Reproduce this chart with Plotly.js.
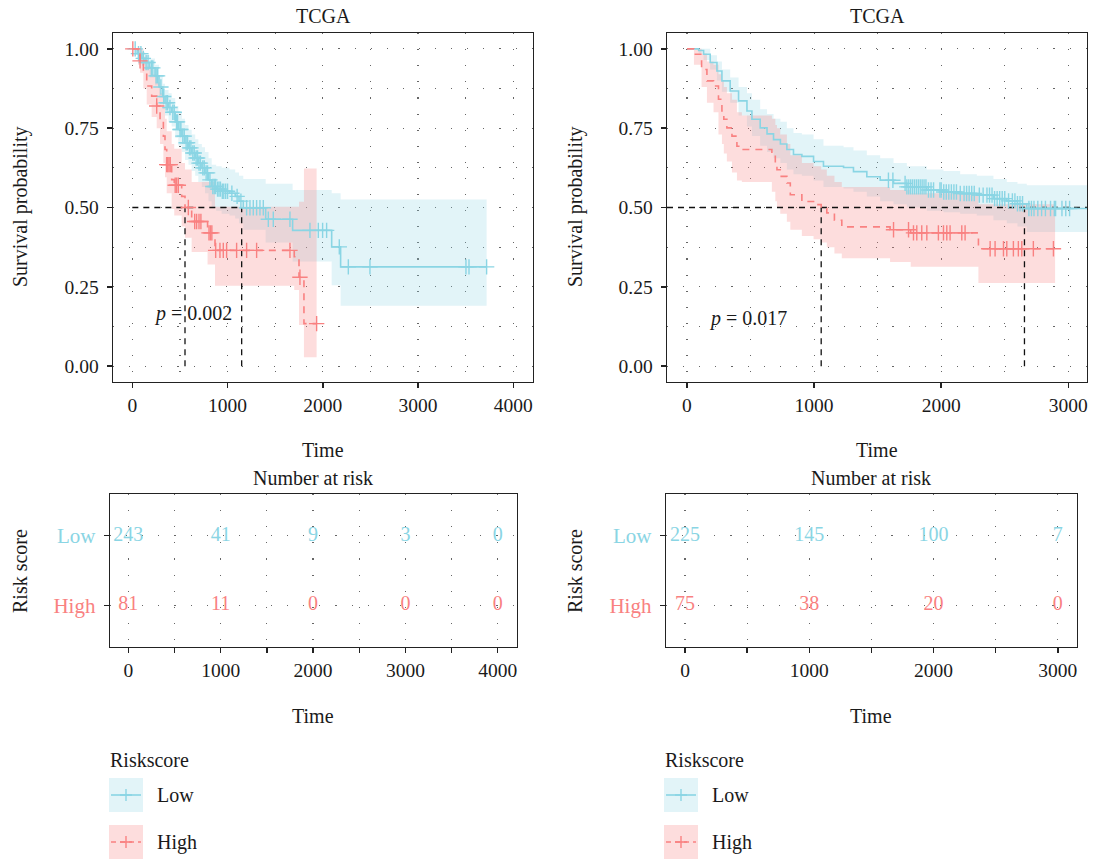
<!DOCTYPE html>
<html>
<head>
<meta charset="utf-8">
<script src="https://cdn.plot.ly/plotly-3.0.1.min.js"></script>
<style>html,body{margin:0;padding:0;background:#fff;}#chart{width:1094px;height:859px;}</style>
</head>
<body>
<div id="chart"></div>
<script>
// ---------------- DATA ----------------
// Left panel (TCGA) - Kaplan-Meier steps
const leftLowTime  = [0,50,100,133,180,238,280,320,343,380,413,450,483,520,553,590,623,660,693,730,763,800,833,880,938,1020,1080,1120,1165,1400,1683,2093,2187,3720];
const leftLowSurv  = [1,0.985,0.97,0.957,0.94,0.915,0.88,0.85,0.83,0.815,0.80,0.77,0.746,0.725,0.704,0.688,0.672,0.656,0.64,0.625,0.609,0.587,0.566,0.558,0.551,0.545,0.535,0.52,0.499,0.463,0.428,0.376,0.313,0.313];
const leftLowLower = [1,0.97,0.95,0.935,0.91,0.885,0.845,0.81,0.79,0.77,0.755,0.72,0.695,0.675,0.65,0.635,0.615,0.60,0.58,0.565,0.545,0.52,0.50,0.49,0.48,0.475,0.465,0.45,0.43,0.39,0.33,0.255,0.19,0.19];
const leftLowUpper = [1,1,0.99,0.98,0.97,0.95,0.915,0.89,0.87,0.86,0.845,0.82,0.80,0.78,0.76,0.745,0.73,0.715,0.70,0.69,0.675,0.655,0.635,0.63,0.625,0.62,0.61,0.60,0.59,0.575,0.555,0.545,0.525,0.525];
const leftLowCensor = [30,65,90,115,145,165,200,215,250,265,300,330,355,370,395,425,440,465,475,500,510,530,545,565,580,600,615,635,650,670,685,700,715,740,755,775,790,815,845,860,875,895,910,925,945,960,980,1000,1045,1100,1140,1200,1235,1270,1305,1340,1375,1428,1480,1655,1865,1953,1998,2040,2173,2268,2495,3503,3535,3720];

const leftHighTime  = [0,60,81,116,151,203,256,291,326,343,361,413,440,518,553,623,790,868,1700,1750,1802,1935];
const leftHighSurv  = [1,0.98,0.962,0.925,0.883,0.851,0.82,0.777,0.725,0.683,0.635,0.588,0.57,0.535,0.50,0.456,0.42,0.365,0.345,0.28,0.134,0.134];
const leftHighLower = [1,0.95,0.925,0.875,0.825,0.785,0.75,0.70,0.64,0.595,0.545,0.495,0.475,0.44,0.405,0.36,0.32,0.253,0.24,0.13,0.028,0.028];
const leftHighUpper = [1,1,1,0.975,0.945,0.92,0.895,0.86,0.815,0.78,0.74,0.70,0.685,0.64,0.62,0.58,0.58,0.502,0.502,0.518,0.623,0.623];
const leftHighCensor = [5,81,256,361,372,385,398,450,465,483,588,655,675,700,720,805,820,835,875,920,955,990,1095,1200,1305,1655,1760,1935];

const leftMedians = [553, 1148];
const leftPText = "<i>p</i> = 0.002";

// Right panel (TCGA)
const rightLowTime  = [0,92,131,183,236,275,340,406,472,511,576,630,681,735,786,838,904,996,1074,1232,1310,1415,1520,1625,1730,1887,2018,2149,2280,2411,2516,2600,2673,3147];
const rightLowSurv  = [1,0.995,0.983,0.957,0.93,0.899,0.867,0.836,0.804,0.778,0.751,0.732,0.714,0.70,0.683,0.667,0.661,0.645,0.63,0.626,0.613,0.597,0.586,0.576,0.565,0.555,0.549,0.544,0.539,0.528,0.521,0.512,0.497,0.497];
const rightLowLower = [1,0.985,0.965,0.935,0.90,0.865,0.83,0.79,0.755,0.725,0.695,0.675,0.655,0.64,0.62,0.605,0.60,0.585,0.565,0.56,0.55,0.535,0.52,0.51,0.50,0.49,0.485,0.48,0.475,0.46,0.45,0.44,0.423,0.423];
const rightLowUpper = [1,1,1,0.98,0.96,0.935,0.91,0.88,0.86,0.84,0.81,0.795,0.78,0.77,0.75,0.735,0.73,0.715,0.695,0.69,0.68,0.665,0.655,0.64,0.63,0.62,0.615,0.605,0.60,0.59,0.58,0.575,0.57,0.57];
const rightLowCensor = [1585,1620,1716,1730,1745,1760,1775,1790,1805,1820,1835,1850,1865,1880,1900,1920,1940,1990,2000,2020,2040,2060,2080,2100,2120,2150,2180,2200,2220,2240,2260,2300,2330,2360,2380,2400,2420,2440,2460,2480,2500,2530,2560,2580,2600,2620,2640,2690,2710,2730,2760,2790,2820,2860,2890,2900,2950,2980,3010];

const rightHighTime  = [0,55,115,157,209,248,275,290,314,354,393,432,668,695,708,734,786,813,904,996,1056,1100,1160,1218,1598,1760,2293,2896];
const rightHighSurv  = [1,0.983,0.935,0.899,0.883,0.841,0.804,0.778,0.751,0.725,0.693,0.683,0.667,0.64,0.619,0.598,0.577,0.54,0.519,0.509,0.497,0.483,0.46,0.439,0.43,0.42,0.37,0.37];
const rightHighLower = [1,0.95,0.88,0.83,0.80,0.73,0.70,0.67,0.645,0.61,0.585,0.58,0.55,0.52,0.50,0.48,0.455,0.43,0.41,0.40,0.39,0.375,0.355,0.34,0.328,0.313,0.262,0.262];
const rightHighUpper = [1,1,0.985,0.96,0.95,0.92,0.90,0.88,0.86,0.84,0.80,0.79,0.78,0.76,0.75,0.73,0.70,0.665,0.64,0.63,0.62,0.60,0.58,0.565,0.555,0.545,0.51,0.51];
const rightHighCensor = [1625,1743,1782,1808,1847,1887,1978,2018,2044,2070,2162,2188,2385,2424,2490,2516,2568,2607,2634,2725,2883];

const rightMedians = [1056, 2655];
const rightPText = "<i>p</i> = 0.017";

// Number at risk tables
const leftRiskTimes = [0,1000,2000,3000,4000];
const leftRiskLow   = [243,41,9,3,0];
const leftRiskHigh  = [81,11,0,0,0];
const rightRiskTimes = [0,1000,2000,3000];
const rightRiskLow   = [225,145,100,7];
const rightRiskHigh  = [75,38,20,0];

const groupNames = ["Low","High"];
const plotTitle = "TCGA";

// ---------------- STYLE ----------------
const FONT = "Liberation Serif";
const LOW_COL = "#8AD5E4";
const HIGH_COL = "#F98181";
const LOW_FILL = "rgba(138,213,228,0.25)";
const HIGH_FILL = "rgba(249,129,129,0.27)";
const TXT = "#1a1a1a";
const W = 1094, H = 859;
const px = v => v / W;
const py = v => 1 - v / H;

function stepAt(times, surv, t) {
  let v = surv[0];
  for (let i = 0; i < times.length; i++) { if (times[i] <= t) v = surv[i]; else break; }
  return v;
}

function kmBand(xa, ya, time, lower, upper, color, fill) {
  return [
    {x: time, y: lower, xaxis: xa, yaxis: ya, type: "scatter", mode: "lines",
     line: {width: 0, shape: "hv", color: color}, hoverinfo: "skip", showlegend: false},
    {x: time, y: upper, xaxis: xa, yaxis: ya, type: "scatter", mode: "lines", fill: "tonexty",
     fillcolor: fill, line: {width: 0, shape: "hv", color: color}, hoverinfo: "skip", showlegend: false}
  ];
}
function kmLine(xa, ya, time, surv, censor, color, dash) {
  return [
    {x: time, y: surv, xaxis: xa, yaxis: ya, type: "scatter", mode: "lines",
     line: {width: 1.6, shape: "hv", color: color, dash: dash}, showlegend: false},
    {x: censor, y: censor.map(t => stepAt(time, surv, t)), xaxis: xa, yaxis: ya, type: "scatter", mode: "markers",
     marker: {symbol: "cross-thin", size: 11, line: {width: 1.4, color: color}, color: color}, showlegend: false}
  ];
}
function medianTraces(xa, ya, medians, hStart, hEnd) {
  const tr = [{x: [hStart, hEnd], y: [0.5, 0.5], xaxis: xa, yaxis: ya, type: "scatter", mode: "lines",
    line: {color: "#111", width: 1.3, dash: "6px,5px"}, hoverinfo: "skip", showlegend: false}];
  medians.forEach(m => tr.push({x: [m, m], y: [0, 0.5], xaxis: xa, yaxis: ya, type: "scatter", mode: "lines",
    line: {color: "#111", width: 1.3, dash: "6px,5px"}, hoverinfo: "skip", showlegend: false}));
  return tr;
}
function riskTraces(xa, ya, times, low, high) {
  return [
    {x: times, y: times.map(() => 2), text: low.map(String), mode: "text", type: "scatter", xaxis: xa, yaxis: ya,
     textfont: {family: FONT, size: 20, color: LOW_COL}, hoverinfo: "skip", showlegend: false},
    {x: times, y: times.map(() => 1), text: high.map(String), mode: "text", type: "scatter", xaxis: xa, yaxis: ya,
     textfont: {family: FONT, size: 20, color: HIGH_COL}, hoverinfo: "skip", showlegend: false}
  ];
}

let data = [];
data = data.concat(kmBand("x", "y", leftLowTime, leftLowLower, leftLowUpper, LOW_COL, LOW_FILL));
data = data.concat(kmBand("x", "y", leftHighTime, leftHighLower, leftHighUpper, HIGH_COL, HIGH_FILL));
data = data.concat(medianTraces("x", "y", leftMedians, 0, Math.max(...leftMedians)));
data = data.concat(kmLine("x", "y", leftLowTime, leftLowSurv, leftLowCensor, LOW_COL, "solid"));
data = data.concat(kmLine("x", "y", leftHighTime, leftHighSurv, leftHighCensor, HIGH_COL, "7px,6px"));

data = data.concat(kmBand("x2", "y2", rightLowTime, rightLowLower, rightLowUpper, LOW_COL, LOW_FILL));
data = data.concat(kmBand("x2", "y2", rightHighTime, rightHighLower, rightHighUpper, HIGH_COL, HIGH_FILL));
data = data.concat(medianTraces("x2", "y2", rightMedians, -157, 3147));
data = data.concat(kmLine("x2", "y2", rightLowTime, rightLowSurv, rightLowCensor, LOW_COL, "solid"));
data = data.concat(kmLine("x2", "y2", rightHighTime, rightHighSurv, rightHighCensor, HIGH_COL, "7px,6px"));

data = data.concat(riskTraces("x3", "y3", leftRiskTimes, leftRiskLow, leftRiskHigh));
data = data.concat(riskTraces("x4", "y4", rightRiskTimes, rightRiskLow, rightRiskHigh));

const gridStyle = {showgrid: true, gridcolor: "rgba(0,0,0,0.6)", gridwidth: 1.1, griddash: "1.1px,15px"};
const axisBase = Object.assign({
  showline: true, mirror: true, linecolor: "#222", linewidth: 1.4,
  ticks: "outside", ticklen: 5, tickwidth: 1.4, tickcolor: "#222",
  zeroline: false, tickfont: {family: FONT, size: 19.5, color: TXT}, fixedrange: true
}, gridStyle);

function xTop(domain, range, anchor) {
  return Object.assign({}, axisBase, {domain: domain, range: range, anchor: anchor, tick0: 0, dtick: 1000,
    minor: Object.assign({dtick: 500, ticks: ""}, gridStyle)});
}
function yTop(domain, anchor) {
  return Object.assign({}, axisBase, {domain: domain, range: [-0.05, 1.05], anchor: anchor, tick0: 0, dtick: 0.25,
    tickformat: ".2f", minor: Object.assign({dtick: 0.125, ticks: ""}, gridStyle), ticklabelstandoff: 4});
}
function xTab(domain, range, anchor) {
  return Object.assign({}, axisBase, {domain: domain, range: range, anchor: anchor, tick0: 0, dtick: 1000,
    minor: Object.assign({dtick: 500, ticks: "outside", ticklen: 5, tickwidth: 1.4, tickcolor: "#222"}, gridStyle)});
}
function yTab(domain, anchor) {
  return Object.assign({}, axisBase, {domain: domain, range: [0.4, 2.6], anchor: anchor, tickvals: [1, 2],
    tickfont: {family: FONT, size: 21, color: TXT},
    ticktext: ['<span style="color:' + HIGH_COL + '">' + groupNames[1] + '</span>',
               '<span style="color:' + LOW_COL + '">' + groupNames[0] + '</span>'], ticklabelstandoff: 4});
}

const topY = [py(382), py(33)];
const tabY = [py(647), py(494)];

const ann = [];
function txt(x, y, text, opts) {
  ann.push(Object.assign({xref: "paper", yref: "paper", x: px(x), y: py(y), text: text, showarrow: false,
    xanchor: "center", yanchor: "middle", font: {family: FONT, size: 20, color: TXT}}, opts || {}));
}
// titles
txt(323, 16, plotTitle); txt(877, 16, plotTitle);
txt(20, 207, "Survival probability", {textangle: -90}); txt(575, 207, "Survival probability", {textangle: -90});
txt(323, 450, "Time"); txt(877, 450, "Time");
txt(313, 478, "Number at risk"); txt(871, 478, "Number at risk");
txt(313, 716, "Time"); txt(871, 716, "Time");
txt(20, 571, "Risk score", {textangle: -90}); txt(575, 571, "Risk score", {textangle: -90});
// p values (data coords)
ann.push({xref: "x", yref: "y", x: 207, y: 0.167, text: leftPText, showarrow: false, xanchor: "left", yanchor: "middle",
  font: {family: FONT, size: 20, color: TXT}});
ann.push({xref: "x2", yref: "y2", x: 160, y: 0.15, text: rightPText, showarrow: false, xanchor: "left", yanchor: "middle",
  font: {family: FONT, size: 20, color: TXT}});

// legends (drawn as shapes + text)
const shapes = [];
function legend(x0) {
  txt(x0, 760, "Riskscore", {xanchor: "left", x: px(x0 - 1)});
  const keys = [{y: 778, col: LOW_COL, fill: LOW_FILL, dash: "solid", label: groupNames[0]},
                {y: 825, col: HIGH_COL, fill: HIGH_FILL, dash: "5px,4px", label: groupNames[1]}];
  keys.forEach(k => {
    shapes.push({type: "rect", xref: "paper", yref: "paper", x0: px(x0), x1: px(x0 + 34), y0: py(k.y + 34), y1: py(k.y),
      fillcolor: k.fill, line: {width: 0}, layer: "below"});
    shapes.push({type: "line", xref: "paper", yref: "paper", x0: px(x0 + 2), x1: px(x0 + 32), y0: py(k.y + 17), y1: py(k.y + 17),
      line: {color: k.col, width: 1.6, dash: k.dash}});
    shapes.push({type: "line", xref: "paper", yref: "paper", x0: px(x0 + 17), x1: px(x0 + 17), y0: py(k.y + 11), y1: py(k.y + 23),
      line: {color: k.col, width: 1.4}});
    shapes.push({type: "line", xref: "paper", yref: "paper", x0: px(x0 + 11), x1: px(x0 + 23), y0: py(k.y + 17), y1: py(k.y + 17),
      line: {color: k.col, width: 1.6}});
    txt(x0 + 46, k.y + 17, k.label, {xanchor: "left"});
  });
}
legend(109); legend(664);

const layout = {
  width: W, height: H, margin: {l: 0, r: 0, t: 0, b: 0},
  paper_bgcolor: "#fff", plot_bgcolor: "#fff", showlegend: false,
  font: {family: FONT, size: 19, color: TXT},
  xaxis: xTop([px(113), px(533)], [-203, 4207], "y"),
  yaxis: yTop(topY, "x"),
  xaxis2: xTop([px(667), px(1087)], [-157, 3147], "y2"),
  yaxis2: yTop(topY, "x2"),
  xaxis3: xTab([px(110), px(517)], [-198, 4208], "y3"),
  yaxis3: yTab(tabY, "x3"),
  xaxis4: xTab([px(666), px(1077)], [-153, 3154], "y4"),
  yaxis4: yTab(tabY, "x4"),
  annotations: ann,
  shapes: shapes
};

Plotly.newPlot("chart", data, layout, {displayModeBar: false, staticPlot: true});
</script>
</body>
</html>
